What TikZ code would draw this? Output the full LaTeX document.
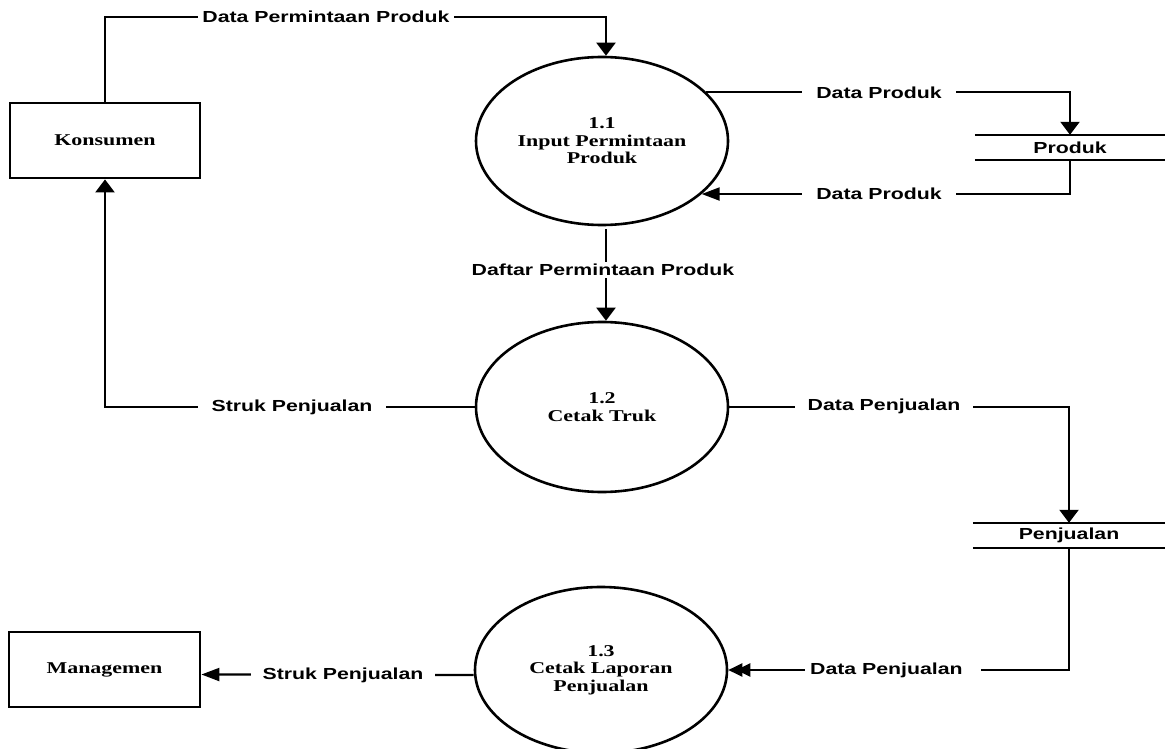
\documentclass[tikz,border=0pt]{standalone}
\usepackage{fontspec}
\newfontfamily\labfont{Liberation Sans}[FakeStretch=1.33,BoldFeatures={FakeStretch=1.33}]
\newfontfamily\procfont{Liberation Serif}[FakeStretch=1.33,BoldFeatures={FakeStretch=1.33}]
\usetikzlibrary{arrows.meta,shapes.geometric}
\tikzset{
  vtip/.tip={Triangle[length=13pt,width=19pt]},
  htip/.tip={Triangle[length=18pt,width=13pt]},
  dtip/.tip={Triangle[length=14pt,width=13pt,sep=-6pt]Triangle[length=14pt,width=13pt]}
}
\begin{document}
\begin{tikzpicture}[x=1pt,y=-1pt,
  flow/.style={line width=2.2pt},
  ent/.style={draw,line width=2.8pt,minimum width=190pt,minimum height=75pt,inner sep=0pt,
    font={\procfont\bfseries\fontsize{16.5pt}{17pt}\selectfont}},
  proc/.style={ellipse,draw,line width=2.6pt,minimum width=252pt,minimum height=168pt,inner sep=0pt,
    align=center,font={\procfont\bfseries\fontsize{16.5pt}{17.5pt}\selectfont}},
  store/.style={minimum width=190pt,minimum height=25pt,inner sep=0pt,
    font={\labfont\bfseries\fontsize{16pt}{17pt}\selectfont}},
  lab/.style={fill=white,inner xsep=14pt,inner ysep=2pt,
    font={\labfont\bfseries\fontsize{16pt}{17pt}\selectfont}}]
\useasboundingbox (0,0) rectangle (1165,749);

% entities
\node[ent] (kons) at (105,140.5) {Konsumen};
\node[ent,minimum width=191pt] (mgmt) at (104.5,669.5) {Managemen};
% processes
\node[proc] (p11) at (602,141) {1.1\\Input Permintaan\\Produk};
\node[proc,minimum height=170pt] (p12) at (602,407) {1.2\\Cetak Truk};
\node[proc,minimum height=166pt] (p13) at (601,670) {1.3\\Cetak Laporan\\Penjualan};
% data stores
\node[store] (prod) at (1070,147.5) {Produk};
\node[store,minimum width=192pt] (penj) at (1069,535.5) {Penjualan};
\draw[flow] (prod.north west) -- (prod.north east) (prod.south west) -- (prod.south east);
\draw[flow] (penj.north west) -- (penj.north east) (penj.south west) -- (penj.south east);

% flows
\coordinate (t1) at (606,17);
\draw[flow,-{vtip}] (kons.north) |- (t1) -- ([xshift=4pt]p11.north);
\draw[flow,-{vtip}] (p11.25) -| (prod.north);
\draw[flow,-{htip}] (prod.south) |- (p11.-28.5);
\draw[flow,-{vtip}] ([xshift=4pt,yshift=-3pt]p11.south) -- ([xshift=4pt]p12.north);
\draw[flow,-{vtip}] (p12.west) -| (kons.south);
\draw[flow,-{vtip}] (p12.east) -| (penj.north);
\draw[flow,-{dtip}] (penj.south) |- (p13.east);
\draw[flow,-{htip}] ([yshift=-5pt]p13.west) -- ([yshift=-5pt]mgmt.east);

% flow labels
\node[lab,inner xsep=4pt] (l1) at (326,17) {Data Permintaan Produk};
\node[lab] (l2) at (879,93) {Data Produk};
\node[lab] (l3) at (879,194) {Data Produk};
\node[lab,inner xsep=6pt] (l4) at (603,270) {Daftar Permintaan Produk};
\node[lab] (l5) at (292,407) {Struk Penjualan};
\node[lab,inner xsep=13pt] (l6) at (884,406) {Data Penjualan};
\node[lab,inner xsep=5pt,anchor=west] (l7) at (805,670) {Data Penjualan\hspace*{13pt}};
\node[lab,inner xsep=12pt] (l8) at (343,675) {Struk Penjualan};
\end{tikzpicture}
\end{document}
